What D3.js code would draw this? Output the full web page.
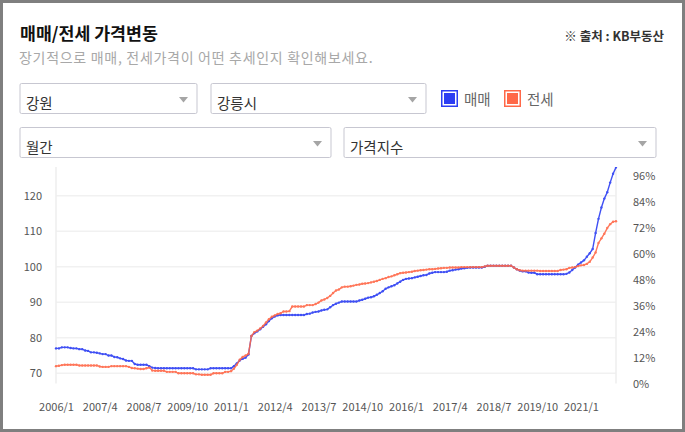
<!DOCTYPE html>
<html>
<head>
<meta charset="utf-8">
<script src="https://cdn.jsdelivr.net/npm/d3@7"></script>
<style>
  body { margin: 0; background: #fff; }
  svg { display: block; font-family: "Noto Sans CJK KR", "Noto Sans", sans-serif; }
</style>
</head>
<body>
<div id="chart-area"></div>
<script>

// Data (monthly price index, 2006/1 - 2022/1)

var startYear = 2006;

var saleIndex = [
  77.0, 77.0, 77.3, 77.3, 77.3, 77.1, 77.0, 77.0, 76.8, 76.8,
  76.4, 76.3, 75.9, 75.9, 75.8, 75.6, 75.4, 75.4, 75.0, 75.0,
  74.6, 74.5, 74.2, 74.0, 73.6, 73.5, 73.5, 72.6, 72.4, 72.4,
  72.4, 72.4, 72.0, 71.6, 71.5, 71.4, 71.4, 71.4, 71.4, 71.4,
  71.4, 71.4, 71.4, 71.4, 71.4, 71.4, 71.4, 71.4, 71.1, 71.1,
  71.1, 71.1, 71.1, 71.4, 71.4, 71.4, 71.4, 71.4, 71.4, 71.4,
  71.4, 72.0, 72.8, 73.6, 74.1, 74.4, 75.3, 80.5, 81.3, 81.8,
  82.4, 83.1, 83.8, 84.7, 85.5, 86.0, 86.3, 86.4, 86.4, 86.4,
  86.4, 86.4, 86.4, 86.4, 86.4, 86.4, 86.7, 86.8, 87.1, 87.3,
  87.4, 87.7, 87.9, 88.0, 88.6, 89.2, 89.6, 89.9, 90.2, 90.2,
  90.2, 90.2, 90.2, 90.2, 90.5, 90.7, 91.0, 91.3, 91.4, 91.7,
  92.1, 92.6, 93.1, 93.8, 94.2, 94.5, 94.8, 95.3, 95.8, 96.3,
  96.6, 96.7, 96.8, 97.0, 97.2, 97.4, 97.6, 97.7, 98.1, 98.3,
  98.5, 98.5, 98.5, 98.5, 98.6, 98.9, 99.0, 99.2, 99.3, 99.5,
  99.6, 99.7, 99.8, 99.8, 99.8, 99.8, 99.8, 100.0, 100.3, 100.3,
  100.3, 100.3, 100.3, 100.3, 100.3, 100.3, 100.3, 99.8, 99.3, 98.9,
  98.7, 98.7, 98.4, 98.3, 98.3, 97.9, 97.9, 97.9, 97.9, 97.9,
  97.9, 97.9, 97.9, 97.9, 97.9, 98.0, 98.4, 99.1, 99.8, 100.6,
  101.2, 101.8, 102.8, 103.8, 105.0, 109.5, 113.5, 116.7, 119.2, 121.0,
  123.7, 126.2, 128.0
];

var jeonseIndex = [
  72.0, 72.1, 72.3, 72.4, 72.4, 72.4, 72.4, 72.4, 72.2, 72.2,
  72.2, 72.2, 72.2, 72.2, 72.2, 71.9, 71.8, 71.8, 71.8, 72.0,
  72.0, 72.0, 72.0, 72.0, 72.0, 71.8, 71.5, 71.4, 71.3, 71.2,
  71.2, 71.4, 71.6, 70.8, 70.7, 70.7, 70.7, 70.7, 70.4, 70.4,
  70.4, 70.4, 70.0, 70.0, 70.0, 70.0, 70.0, 70.0, 69.7, 69.7,
  69.6, 69.6, 69.6, 69.6, 70.0, 70.0, 70.0, 70.0, 70.4, 70.4,
  70.6, 71.3, 72.4, 73.8, 74.6, 75.0, 75.5, 80.5, 81.6, 82.0,
  82.6, 83.3, 84.3, 85.2, 85.9, 86.3, 86.7, 86.9, 87.4, 87.4,
  87.5, 88.8, 88.8, 88.8, 88.8, 88.8, 89.2, 89.2, 89.2, 89.5,
  89.9, 90.5, 90.8, 91.2, 91.8, 92.6, 93.3, 93.6, 94.2, 94.4,
  94.4, 94.5, 94.7, 94.9, 95.0, 95.2, 95.3, 95.4, 95.6, 95.8,
  96.0, 96.3, 96.6, 96.8, 97.1, 97.3, 97.6, 97.9, 98.2, 98.3,
  98.4, 98.5, 98.6, 98.8, 98.9, 99.0, 99.1, 99.2, 99.3, 99.3,
  99.4, 99.5, 99.6, 99.7, 99.7, 99.8, 99.8, 99.8, 99.8, 99.9,
  99.9, 99.9, 99.9, 99.9, 99.9, 99.9, 99.9, 100.1, 100.3, 100.3,
  100.3, 100.3, 100.3, 100.3, 100.3, 100.3, 100.3, 99.8, 99.3, 99.0,
  98.9, 98.9, 98.9, 98.9, 98.9, 98.9, 98.8, 98.8, 98.8, 98.8,
  98.8, 98.8, 98.8, 99.1, 99.2, 99.3, 99.7, 99.8, 99.9, 100.2,
  100.4, 100.5, 100.8, 101.4, 102.6, 104.0, 106.7, 108.0, 109.3, 110.9,
  112.0, 112.7, 112.8
];

var xTickLabels = ["2006/1", "2007/4", "2008/7", "2009/10", "2011/1", "2012/4", "2013/7",
  "2014/10", "2016/1", "2017/4", "2018/7", "2019/10", "2021/1"];
var yTicks = [70, 80, 90, 100, 110, 120];
var pctTicks = [0, 12, 24, 36, 48, 60, 72, 84, 96];

// month labels for the category axis
var months = saleIndex.map(function(d, i) {
    return (startYear + Math.floor(i / 12)) + "/" + (i % 12 + 1);
});

var blue = "#2b3df3",
    orange = "#ff6848";

// SVG drawing area
var width = 685, height = 432;

var svg = d3.select("#chart-area").append("svg")
    .attr("width", width)
    .attr("height", height);

// outer frame
svg.append("rect")
    .attr("x", 1.5).attr("y", 1.5)
    .attr("width", width - 3).attr("height", height - 3)
    .attr("fill", "#fff")
    .attr("stroke", "#7f7f7f")
    .attr("stroke-width", 3);

// Header
svg.append("text")
    .attr("x", 20).attr("y", 40)
    .attr("font-size", 17.3).attr("font-weight", 700)
    .attr("fill", "#111")
    .text("매매/전세 가격변동");

svg.append("text")
    .attr("x", 664).attr("y", 41)
    .attr("text-anchor", "end")
    .attr("font-size", 12.5).attr("font-weight", 700)
    .attr("fill", "#333")
    .text("※ 출처 : KB부동산");

svg.append("text")
    .attr("x", 19).attr("y", 62.5)
    .attr("font-size", 14)
    .attr("letter-spacing", 0.7)
    .attr("fill", "#a8a8a8")
    .text("장기적으로 매매, 전세가격이 어떤 추세인지 확인해보세요.");

// Select boxes
var selects = [
    {label: "강원", x: 20, y: 83.5, w: 177},
    {label: "강릉시", x: 211, y: 83.5, w: 215},
    {label: "월간", x: 20, y: 127.5, w: 311},
    {label: "가격지수", x: 344, y: 127.5, w: 312}
];

var sel = svg.selectAll(".select")
    .data(selects)
  .enter().append("g")
    .attr("class", "select")
    .attr("transform", function(d) { return "translate(" + d.x + "," + d.y + ")"; });

sel.append("rect")
    .attr("width", function(d) { return d.w; })
    .attr("height", 30)
    .attr("rx", 1.5)
    .attr("fill", "#fff")
    .attr("stroke", "#c7c7d1");

sel.append("text")
    .attr("x", 6).attr("y", 25)
    .attr("font-size", 14.5)
    .attr("fill", "#333")
    .text(function(d) { return d.label; });

sel.append("path")
    .attr("d", function(d) { var r = d.w - 9; return "M" + (r - 9) + ",13.5H" + r + "L" + (r - 4.5) + ",19Z"; })
    .attr("fill", "#a5a5a5");

// Legend
var legend = svg.selectAll(".legend")
    .data([{name: "매매", color: blue, x: 441}, {name: "전세", color: orange, x: 504}])
  .enter().append("g")
    .attr("class", "legend")
    .attr("transform", function(d) { return "translate(" + d.x + ",90)"; });

legend.append("rect")
    .attr("x", 0.75).attr("y", 0.75)
    .attr("width", 15.5).attr("height", 15.5)
    .attr("fill", "#fff")
    .attr("stroke", function(d) { return d.color; })
    .attr("stroke-width", 1.5);

legend.append("rect")
    .attr("x", 3).attr("y", 3)
    .attr("width", 11).attr("height", 11)
    .attr("fill", function(d) { return d.color; });

legend.append("text")
    .attr("x", 23).attr("y", 14.5)
    .attr("font-size", 14.5)
    .attr("fill", "#666")
    .text(function(d) { return d.name; });

// Scales
var plot = {left: 56, right: 616, top: 167, bottom: 383.5};

var x = d3.scalePoint()
    .domain(months)
    .range([plot.left, plot.right]);

var y = d3.scaleLinear()
    .domain([67.12, 128.1])
    .range([plot.bottom, plot.top]);

var yPct = d3.scaleLinear()
    .domain([0, 100])
    .range([plot.bottom, plot.top]);

// Grid lines
svg.append("g")
    .selectAll("line")
    .data(yTicks)
  .enter().append("line")
    .attr("x1", plot.left).attr("x2", plot.right)
    .attr("y1", function(d) { return y(d); })
    .attr("y2", function(d) { return y(d); })
    .attr("stroke", "#f1f1f1")
    .attr("stroke-width", 1.5);

svg.selectAll(".edge")
    .data([plot.left, plot.right])
  .enter().append("line")
    .attr("class", "edge")
    .attr("x1", function(d) { return d; }).attr("x2", function(d) { return d; })
    .attr("y1", plot.top).attr("y2", plot.bottom)
    .attr("stroke", "#eeeeee")
    .attr("stroke-width", 1.5);

// Axes
var yAxis = d3.axisLeft(y)
    .tickValues(yTicks)
    .tickSize(0)
    .tickPadding(14);

var pctAxis = d3.axisRight(yPct)
    .tickValues(pctTicks)
    .tickSize(0)
    .tickPadding(17)
    .tickFormat(function(d) { return d + "%"; });

var xAxis = d3.axisBottom(x)
    .tickValues(xTickLabels)
    .tickSize(0)
    .tickPadding(20);

svg.append("g")
    .attr("class", "axis y-axis")
    .attr("transform", "translate(" + plot.left + ",0)")
    .call(yAxis);

svg.append("g")
    .attr("class", "axis pct-axis")
    .attr("transform", "translate(" + plot.right + ",0)")
    .call(pctAxis);

svg.append("g")
    .attr("class", "axis x-axis")
    .attr("transform", "translate(0," + plot.bottom + ")")
    .call(xAxis);

svg.selectAll(".axis .domain").remove();
svg.selectAll(".axis text")
    .attr("font-family", "\"Noto Sans CJK KR\", sans-serif")
    .attr("font-size", 11)
    .attr("fill", "#555");

// Lines
var series = [
    {name: "매매", values: saleIndex, color: blue},
    {name: "전세", values: jeonseIndex, color: orange}
];

var line = d3.line()
    .x(function(d, i) { return x(months[i]); })
    .y(function(d) { return y(d); });

svg.append("clipPath")
    .attr("id", "plot-clip")
  .append("rect")
    .attr("x", plot.left - 2).attr("y", plot.top)
    .attr("width", plot.right - plot.left + 4)
    .attr("height", plot.bottom - plot.top);

var lines = svg.append("g")
    .attr("clip-path", "url(#plot-clip)")
    .selectAll(".series")
    .data(series)
  .enter().append("g")
    .attr("class", "series")
    .attr("opacity", 0.9);

lines.append("path")
    .attr("d", function(d) { return line(d.values); })
    .attr("fill", "none")
    .attr("stroke", function(d) { return d.color; })
    .attr("stroke-width", 1.4);

lines.selectAll("circle")
    .data(function(d) { return d.values.map(function(v, i) { return {v: v, i: i, color: d.color}; }); })
  .enter().append("circle")
    .attr("cx", function(d) { return x(months[d.i]); })
    .attr("cy", function(d) { return y(d.v); })
    .attr("r", 1.2)
    .attr("fill", function(d) { return d.color; });

</script>
</body>
</html>
